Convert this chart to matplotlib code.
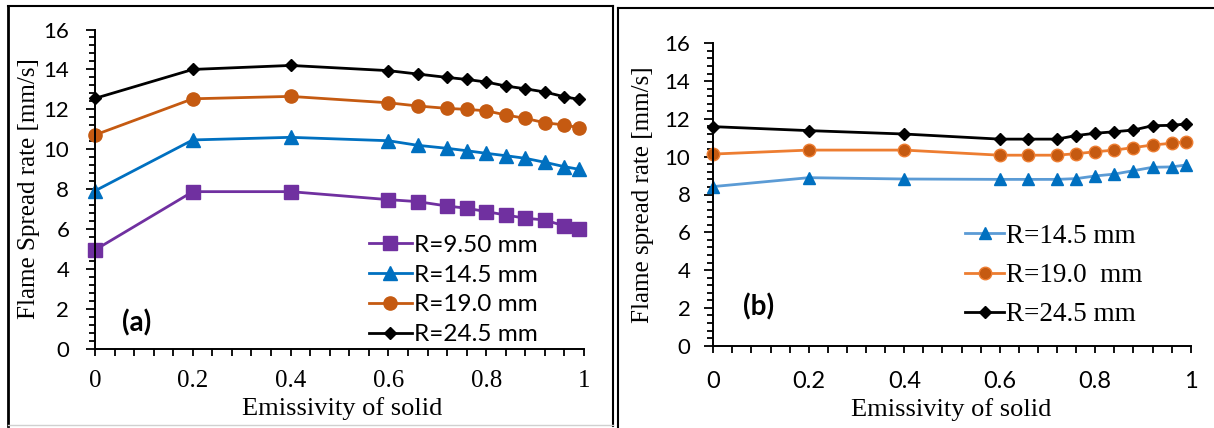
import matplotlib
matplotlib.use("Agg")
import matplotlib.pyplot as plt
from matplotlib.ticker import MultipleLocator, FixedLocator
from matplotlib.lines import Line2D

# ---------------- data ----------------
emissivity = [0, 0.2, 0.4, 0.6, 0.66, 0.72, 0.76, 0.8, 0.84, 0.88, 0.92, 0.96, 0.99]

a_r950 = [4.96, 7.88, 7.88, 7.48, 7.38, 7.16, 7.05, 6.88, 6.71, 6.55, 6.46, 6.16, 6.0]
a_r145 = [7.92, 10.47, 10.6, 10.43, 10.2, 10.05, 9.93, 9.8, 9.68, 9.55, 9.35, 9.13, 9.0]
a_r190 = [10.72, 12.53, 12.65, 12.33, 12.17, 12.05, 12.0, 11.93, 11.72, 11.55, 11.33, 11.22, 11.08]
a_r245 = [12.55, 14.0, 14.2, 13.94, 13.77, 13.6, 13.5, 13.37, 13.17, 13.03, 12.87, 12.63, 12.5]

b_r145 = [8.42, 8.89, 8.82, 8.8, 8.8, 8.8, 8.84, 8.98, 9.08, 9.26, 9.44, 9.46, 9.56]
b_r190 = [10.14, 10.35, 10.35, 10.08, 10.08, 10.08, 10.16, 10.26, 10.35, 10.48, 10.62, 10.71, 10.79]
b_r245 = [11.59, 11.38, 11.2, 10.93, 10.93, 10.93, 11.12, 11.24, 11.32, 11.41, 11.64, 11.66, 11.73]

labels_a = ["R=9.50 mm", "R=14.5 mm", "R=19.0 mm", "R=24.5 mm"]
labels_b = ["R=14.5 mm", "R=19.0  mm", "R=24.5 mm"]
xtick_vals = [0, 0.2, 0.4, 0.6, 0.8, 1]
xtick_labels = ["0", "0.2", "0.4", "0.6", "0.8", "1"]
ytick_vals = [0, 2, 4, 6, 8, 10, 12, 14, 16]

SANS = "Lato"
SERIF = "Liberation Serif"

W, H = 1214, 428
fig = plt.figure(figsize=(W / 100, H / 100), dpi=100)


def fx(px):
    return px / W


def fy(py):
    return 1 - py / H


def style_axes(ax, xfont, yfont, xsize, ysize, xpad, ypad):
    ax.set_xlim(0, 1)
    ax.set_ylim(0, 16)
    for s in ("top", "right"):
        ax.spines[s].set_visible(False)
    for s in ("left", "bottom"):
        ax.spines[s].set_linewidth(1.4)
        ax.spines[s].set_color("black")
    ax.xaxis.set_major_locator(FixedLocator(xtick_vals))
    ax.set_xticklabels(xtick_labels, fontfamily=xfont, fontsize=xsize)
    ax.xaxis.set_minor_locator(MultipleLocator(0.04))
    ax.yaxis.set_major_locator(FixedLocator(ytick_vals))
    ax.set_yticklabels([str(v) for v in ytick_vals], fontfamily=yfont, fontsize=ysize)
    ax.yaxis.set_minor_locator(MultipleLocator(0.4))
    ax.tick_params(axis="x", which="both", direction="out", length=5, width=1.3, pad=xpad)
    ax.tick_params(axis="y", which="major", direction="out", length=6.5, width=1.3, pad=ypad)
    ax.tick_params(axis="y", which="minor", direction="out", length=4.5, width=1.3)


# ---------------- panel (a) ----------------
axa = fig.add_axes([fx(95), fy(349), fx(584 - 95), (349 - 29.5) / H])
axa.plot(emissivity, a_r950, color="#7030A0", lw=2, marker="s", ms=9.5, label=labels_a[0], clip_on=False)
axa.plot(emissivity, a_r145, color="#0070C0", lw=2, marker="^", ms=9.5, label=labels_a[1], clip_on=False)
axa.plot(emissivity, a_r190, color="#C55A11", lw=2, marker="o", ms=9.5, label=labels_a[2], clip_on=False)
axa.plot(emissivity, a_r245, color="black", lw=2, marker="D", ms=6.5, label=labels_a[3], clip_on=False)
style_axes(axa, SERIF, SANS, 18, 16, 10, 12)

leg_a = fig.legend(loc="center left", bbox_to_anchor=(fx(369), fy(290)),
                   handles=axa.get_lines(), labels=labels_a,
                   frameon=False, prop={"family": SANS, "size": 17.5},
                   handlelength=1.75, handletextpad=0.1, labelspacing=0.36,
                   borderpad=0, borderaxespad=0)

fig.text(fx(137), fy(323), "(a)", family=SANS, weight="bold", fontsize=20,
         ha="center", va="center")
fig.text(fx(342), fy(409), "Emissivity of solid", family=SERIF, fontsize=19,
         ha="center", va="center")
fig.text(fx(29), fy(189), "Flame Spread rate [mm/s]", family=SERIF, fontsize=18,
         ha="center", va="center", rotation=90)

# ---------------- panel (b) ----------------
axb = fig.add_axes([fx(713.3), fy(345.7), fx(1190.7 - 713.3), (345.7 - 43.3) / H])
axb.plot(emissivity, b_r145, color="#5B9BD5", lw=2, marker="^", ms=8.5,
         mfc="#0070C0", mec="#0070C0", label=labels_b[0], clip_on=False)
axb.plot(emissivity, b_r190, color="#ED7D31", lw=2, marker="o", ms=9,
         mfc="#C55A11", mec="#ED7D31", label=labels_b[1], clip_on=False)
axb.plot(emissivity, b_r245, color="black", lw=2, marker="D", ms=6.5,
         label=labels_b[2], clip_on=False)
style_axes(axb, SANS, SANS, 17, 16, 13, 10)

leg_b = fig.legend(loc="center left", bbox_to_anchor=(fx(965), fy(275.5)),
                   handles=axb.get_lines(), labels=labels_b,
                   frameon=False, prop={"family": SERIF, "size": 19.5},
                   handlelength=1.45, handletextpad=0.08, labelspacing=0.52,
                   borderpad=0, borderaxespad=0)

fig.text(fx(759), fy(307), "(b)", family=SANS, weight="bold", fontsize=20,
         ha="center", va="center")
fig.text(fx(951), fy(410), "Emissivity of solid", family=SERIF, fontsize=19,
         ha="center", va="center")
fig.text(fx(643), fy(195), "Flame spread rate [mm/s]", family=SERIF, fontsize=18,
         ha="center", va="center", rotation=90)

# ---------------- panel frames ----------------
def fline(x0, y0, x1, y1, color="black", lw=1.5):
    fig.add_artist(Line2D([fx(x0), fx(x1)], [fy(y0), fy(y1)], color=color, lw=lw))

fline(8, 6, 8, 426, lw=2)
fline(8, 6, 613, 6, lw=1.5)
fline(613, 6, 613, 426, lw=1.5)
fline(8, 425, 613, 425, color="#d0d0d0", lw=1)
fline(618, 8, 618, 428, lw=1.5)
fline(618, 8, 1214, 8, lw=1.5)

fig.savefig("out.png", dpi=100)
